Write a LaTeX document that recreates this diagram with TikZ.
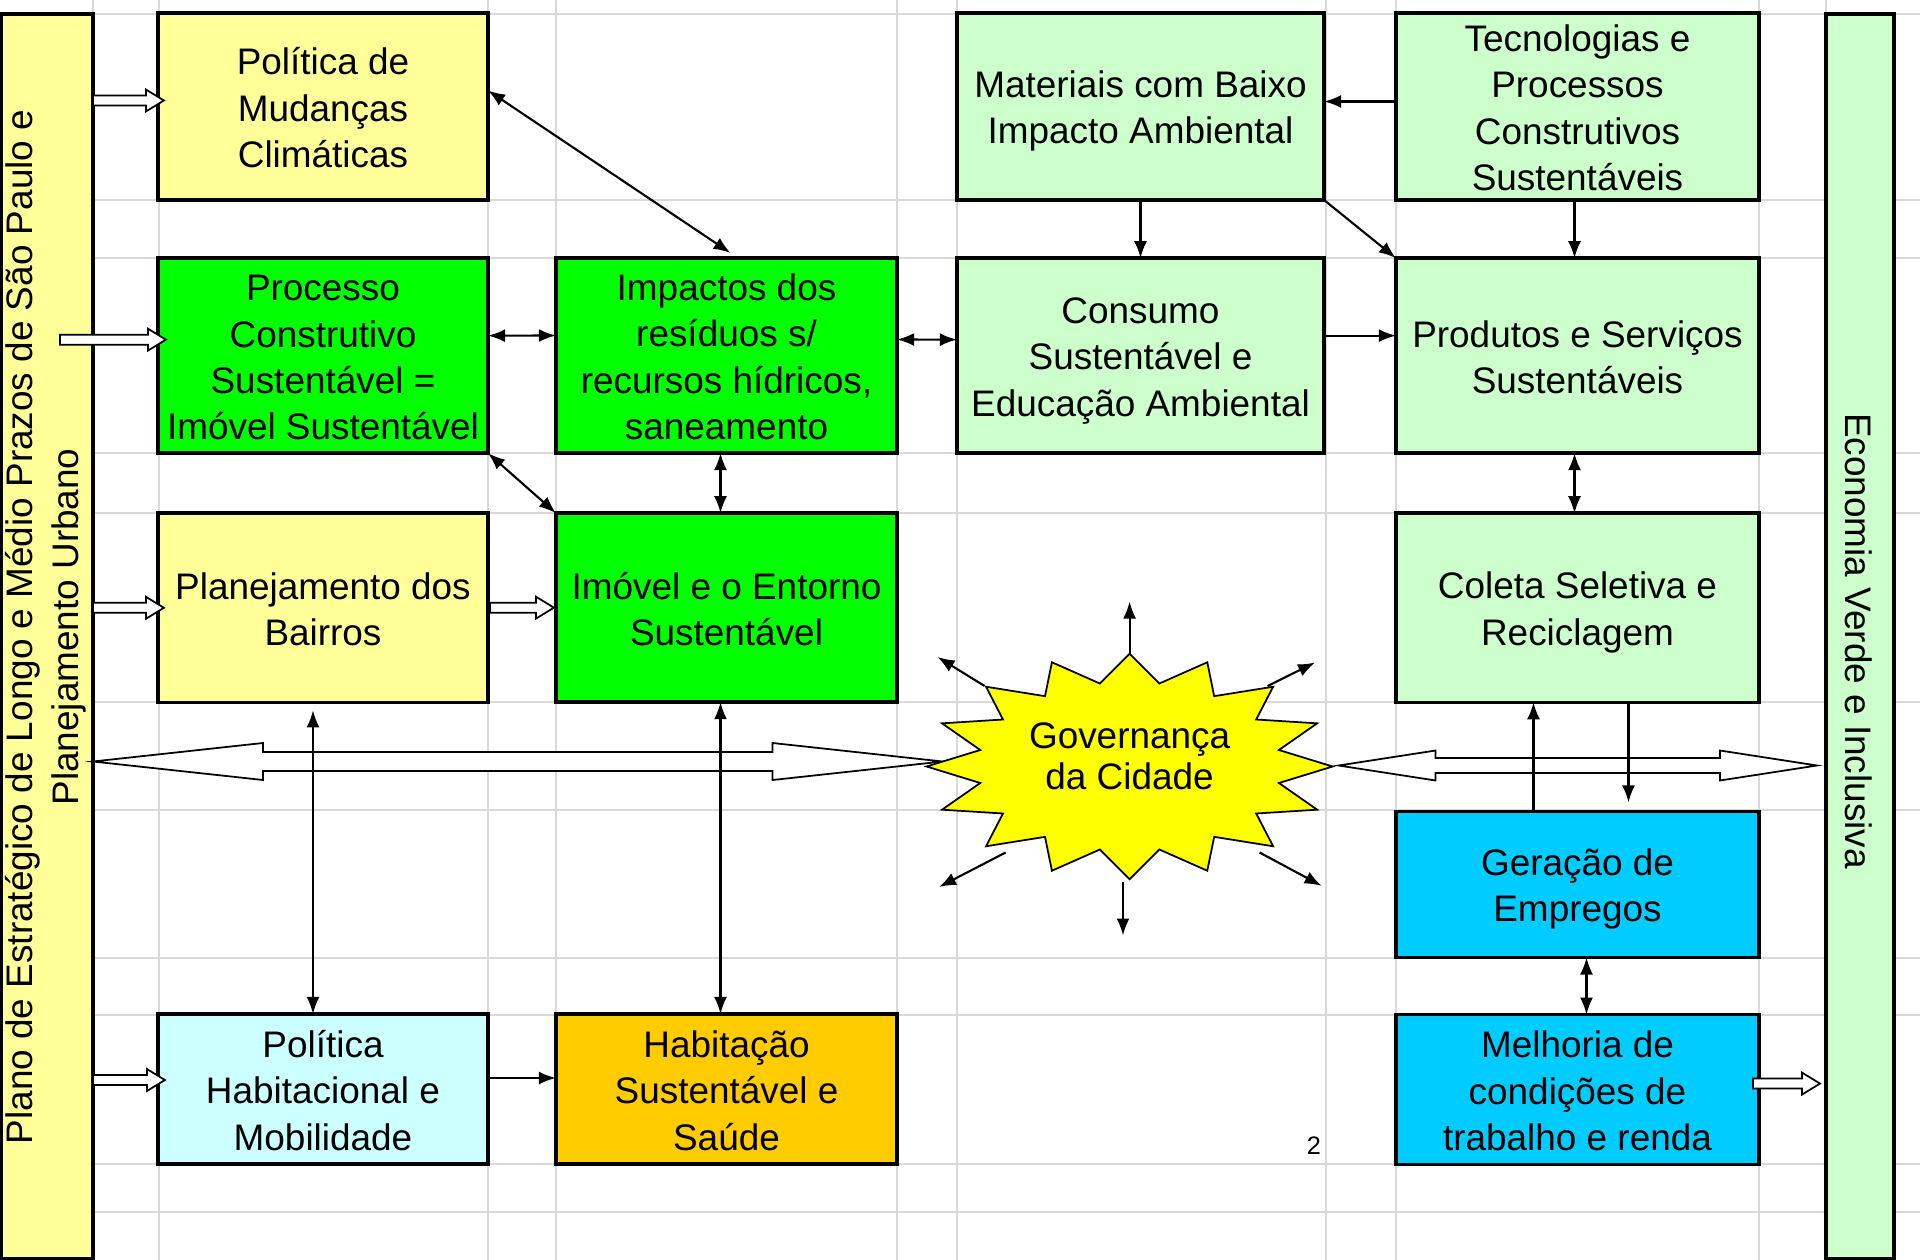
\documentclass[tikz,border=0pt]{standalone}
\usepackage{fontspec}
\setmainfont{Liberation Sans}
\usetikzlibrary{arrows.meta}
\usetikzlibrary{calc}
\usetikzlibrary{positioning}

\definecolor{paleyellow}{HTML}{FFFF99}
\definecolor{brightgreen}{HTML}{00FF00}
\definecolor{palegreen}{HTML}{CCFFCC}
\definecolor{palecyan}{HTML}{CCFFFF}
\definecolor{amber}{HTML}{FFCC00}
\definecolor{skyblue}{HTML}{00CCFF}
\definecolor{staryellow}{HTML}{FFFF00}
\definecolor{gridgray}{HTML}{D9D9D9}

\tikzset{
  box/.style={draw, line width=1pt, align=center, inner sep=0pt, outer sep=0pt,
    font=\fontsize{10.5}{13.2}\selectfont},
  bar/.style={draw, line width=1.2pt, inner sep=0pt, outer sep=0pt},
  bartext/.style={align=center, font=\fontsize{10.5}{13.2}\selectfont},
  arr/.style={-{Latex[length=1.7mm,width=1.3mm]}, line width=0.6pt},
  dblarr/.style={{Latex[length=1.7mm,width=1.3mm]}-{Latex[length=1.7mm,width=1.3mm]}, line width=0.6pt},
  blockarr/.style={draw, fill=white, line width=0.5pt},
  govstar/.style={draw, fill=staryellow, line width=0.5pt},
  gridline/.style={draw=gridgray, line width=0.7pt},
}

% fixed line boxes for the first and last text lines
\newcommand{\boxtop}{\rule{0pt}{10.3pt}}
\newcommand{\boxbot}{\rule[-2pt]{0pt}{2pt}}

% hollow arrow, horizontal, from #1 to tip #2
\newcommand{\openarrow}[2]{%
  \draw[blockarr] ($(#1)+(0,-5)$) -- ($(#2)+(-18,-5)$) -- ($(#2)+(-18,-11)$) -- (#2)
    -- ($(#2)+(-18,11)$) -- ($(#2)+(-18,5)$) -- ($(#1)+(0,5)$) -- cycle;}

% hollow double arrow: tips #1 and #2, head length #3, shaft #4, head #5
\newcommand{\bigdblarrow}[5]{%
  \draw[blockarr] (#1) -- ($(#1)+(#3,-#5)$) -- ($(#1)+(#3,-#4)$) -- ($(#2)+(-#3,-#4)$)
    -- ($(#2)+(-#3,-#5)$) -- (#2) -- ($(#2)+(-#3,#5)$) -- ($(#2)+(-#3,#4)$)
    -- ($(#1)+(#3,#4)$) -- ($(#1)+(#3,#5)$) -- cycle;}

\begin{document}
\begin{tikzpicture}[x=0.01cm, y=-0.01cm]
    \useasboundingbox (0,0) rectangle (1920,1260);

    % spreadsheet grid
    \foreach \gx in {93,159,488,556,897,957,1326,1396,1759,1826}
        \draw[gridline] (\gx,0) -- (\gx,1260);
    \foreach \gy in {14,200,258,453,513,702,810,958,1015,1164,1212}
        \draw[gridline] (0,\gy) -- (1920,\gy);


    % side bars
    \node[bar, fill=paleyellow, minimum width=0.92cm, minimum height=12.45cm] (plano) at (47,636.5) {};
    \node[bartext, rotate=90] (plano-text) at (46,627)
        {Plano de Estratégico de Longo e Médio Prazos de São Paulo e\\Planejamento Urbano};
    \node[bar, fill=palegreen, minimum width=0.68cm, minimum height=12.45cm] (verde) at (1860,636.5) {};
    \node[bartext, rotate=-90] (verde-text) at (1859,641) {Economia Verde e Inclusiva};


    % first column
    \node[box, fill=paleyellow, minimum width=3.3cm, minimum height=1.87cm] (pol) at (323,106.5)
        {\boxtop Política de\\Mudanças\\Climáticas\boxbot};
    \node[box, fill=brightgreen, minimum width=3.3cm, minimum height=1.95cm, below=0.58cm of pol] (proc)
        {\boxtop Processo\\Construtivo\\Sustentável =\\Imóvel Sustentável\boxbot};
    \node[box, fill=paleyellow, minimum width=3.3cm, minimum height=1.89cm, below=0.6cm of proc] (plan)
        {\boxtop Planejamento dos\\Bairros\boxbot};
    \node[box, fill=palecyan, minimum width=3.3cm, minimum height=1.5cm] (polhab) at (323,1089)
        {\boxtop Política\\Habitacional e\\Mobilidade\boxbot};

    % second column
    \node[box, fill=brightgreen, minimum width=3.41cm, minimum height=1.95cm] (imp) at (726.5,355.5)
        {\boxtop Impactos dos\\resíduos s/\\recursos hídricos,\\saneamento\boxbot};
    \node[box, fill=brightgreen, minimum width=3.41cm, minimum height=1.89cm, below=0.6cm of imp] (imo)
        {\boxtop Imóvel e o Entorno\\Sustentável\boxbot};
    \node[box, fill=amber, minimum width=3.41cm, minimum height=1.5cm] (hab) at (726.5,1089)
        {\boxtop Habitação\\Sustentável e\\Saúde\boxbot};

    % third column
    \node[box, fill=palegreen, minimum width=3.67cm, minimum height=1.87cm] (mat) at (1140.5,106.5)
        {\boxtop Materiais com Baixo\\Impacto Ambiental\boxbot};
    \node[box, fill=palegreen, minimum width=3.67cm, minimum height=1.95cm, below=0.58cm of mat] (cons)
        {\boxtop Consumo\\Sustentável e\\Educação Ambiental\boxbot};

    % fourth column
    \node[box, fill=palegreen, minimum width=3.63cm, minimum height=1.87cm] (tec) at (1577.5,106.5)
        {\boxtop Tecnologias e\\Processos\\Construtivos\\Sustentáveis\boxbot};
    \node[box, fill=palegreen, minimum width=3.63cm, minimum height=1.95cm, below=0.58cm of tec] (prod)
        {\boxtop Produtos e Serviços\\Sustentáveis\boxbot};
    \node[box, fill=palegreen, minimum width=3.63cm, minimum height=1.89cm, below=0.6cm of prod] (col)
        {\boxtop Coleta Seletiva e\\Reciclagem\boxbot};
    \node[box, fill=skyblue, minimum width=3.63cm, minimum height=1.46cm, below=1.09cm of col] (ger)
        {\boxtop Geração de\\Empregos\boxbot};
    \node[box, fill=skyblue, minimum width=3.63cm, minimum height=1.5cm, below=0.57cm of ger] (mel)
        {\boxtop Melhoria de\\condições de\\trabalho e renda\boxbot};

    \node[font=\fontsize{7.2}{8}\selectfont] (page-num) at (1314,1146) {2};


    % governance star and the wide arrows
    \coordinate (gov) at (1129.6,766.5);
    \coordinate (city-w) at ($(gov)+(-187,-5)$);
    \coordinate (plano-e) at (plano.east |- city-w);
    \coordinate (city-e) at ($(gov)+(209,-1)$);
    \coordinate (verde-w) at ($(verde.west |- city-e)+(-9,0)$);
    \bigdblarrow{plano-e}{city-w}{170}{9.5}{18.5}
    \bigdblarrow{city-e}{verde-w}{97}{7.5}{15}

    \draw[govstar] ($(gov)+(203,0)$)
        \foreach \k [evaluate=\k as \rx using {(203-50.75*mod(\k,2))*cos(\k*11.25)},
                     evaluate=\k as \ry using {(112.8-28.2*mod(\k,2))*sin(\k*11.25)}] in {1,...,31}
            { -- ($(gov)+(\rx,\ry)$) } -- cycle;
    \node[align=center, font=\fontsize{10.5}{11.8}\selectfont] (gov-text) at ($(gov)+(0,-10)$)
        {Governança\\da Cidade};

    % rays
    \draw[arr] ($(gov)+(0,-113)$) -- ($(gov)+(0,-165)$);
    \draw[arr] ($(gov)+(-145,-80.5)$) -- ($(gov)+(-192,-109.5)$);
    \draw[arr] ($(gov)+(138,-80.5)$) -- ($(gov)+(185.4,-104)$);
    \draw[arr] ($(gov)+(-124,86)$) -- ($(gov)+(-190.6,120.5)$);
    \draw[arr] ($(gov)+(130,86)$) -- ($(gov)+(192,119.3)$);
    \draw[arr] ($(gov)+(-6.6,115)$) -- ($(gov)+(-6.6,169)$);


    % links between boxes
    \draw[dblarr] ($(pol.east)+(0,-16)$) -- ($(imp.north)+(4,-5)$);
    \draw[dblarr] ($(proc.east)+(0,-20)$) -- ($(imp.west)+(0,-20)$);
    \draw[dblarr] ($(imp.east)+(0,-16)$) -- ($(cons.west)+(0,-16)$);
    \draw[dblarr] (proc.south east) -- (imo.north west);
    \draw[dblarr] ($(imp.south)+(-6,0)$) -- ($(imo.north)+(-6,0)$);
    \draw[arr] ($(tec.west)+(0,-5)$) -- ($(mat.east)+(0,-5)$);
    \draw[arr] (mat.south) -- (cons.north);
    \draw[arr] (mat.south east) -- (prod.north west);
    \draw[arr] ($(tec.south)+(-3,0)$) -- ($(prod.north)+(-3,0)$);
    \draw[arr] ($(cons.east)+(0,-20)$) -- ($(prod.west)+(0,-20)$);
    \draw[dblarr] ($(prod.south)+(-3,0)$) -- ($(col.north)+(-3,0)$);
    \draw[arr] ($(ger.north)+(-44,0)$) -- ($(col.south)+(-44,0)$);
    \draw[arr, shorten >=0.09cm] ($(col.south)+(51,0)$) -- ($(ger.north)+(51,0)$);
    \draw[dblarr] ($(ger.south)+(9,0)$) -- ($(mel.north)+(9,0)$);
    \draw[dblarr, shorten <=0.08cm] ($(plan.south)+(-10,0)$) -- ($(polhab.north)+(-10,0)$);
    \draw[dblarr] ($(imo.south)+(-6,0)$) -- ($(hab.north)+(-6,0)$);
    \draw[arr] ($(polhab.east)+(0,-11)$) -- ($(hab.west)+(0,-11)$);


    % hollow input arrows
    \coordinate (pol-in) at ($(pol.west)+(6,-6)$);
    \coordinate (pol-out) at (plano.east |- pol-in);
    \openarrow{pol-out}{pol-in}
    \coordinate (proc-in) at ($(proc.west)+(8,-16)$);
    \coordinate (proc-out) at ($(plano.east |- proc-in)+(-33,0)$);
    \openarrow{proc-out}{proc-in}
    \coordinate (plan-in) at ($(plan.west)+(6,0)$);
    \coordinate (plan-out) at (plano.east |- plan-in);
    \openarrow{plan-out}{plan-in}
    \coordinate (imo-in) at ($(imo.west)+(-2,0)$);
    \coordinate (plan-e) at ($(plan.east)+(2,0)$);
    \openarrow{plan-e}{imo-in}
    \coordinate (polhab-in) at ($(polhab.west)+(7,-9)$);
    \coordinate (polhab-out) at (plano.east |- polhab-in);
    \openarrow{polhab-out}{polhab-in}
    \coordinate (mel-out) at ($(mel.east)+(-6,-6)$);
    \coordinate (verde-in) at ($(verde.west |- mel-out)+(-6,0)$);
    \openarrow{mel-out}{verde-in}

\end{tikzpicture}
\end{document}
